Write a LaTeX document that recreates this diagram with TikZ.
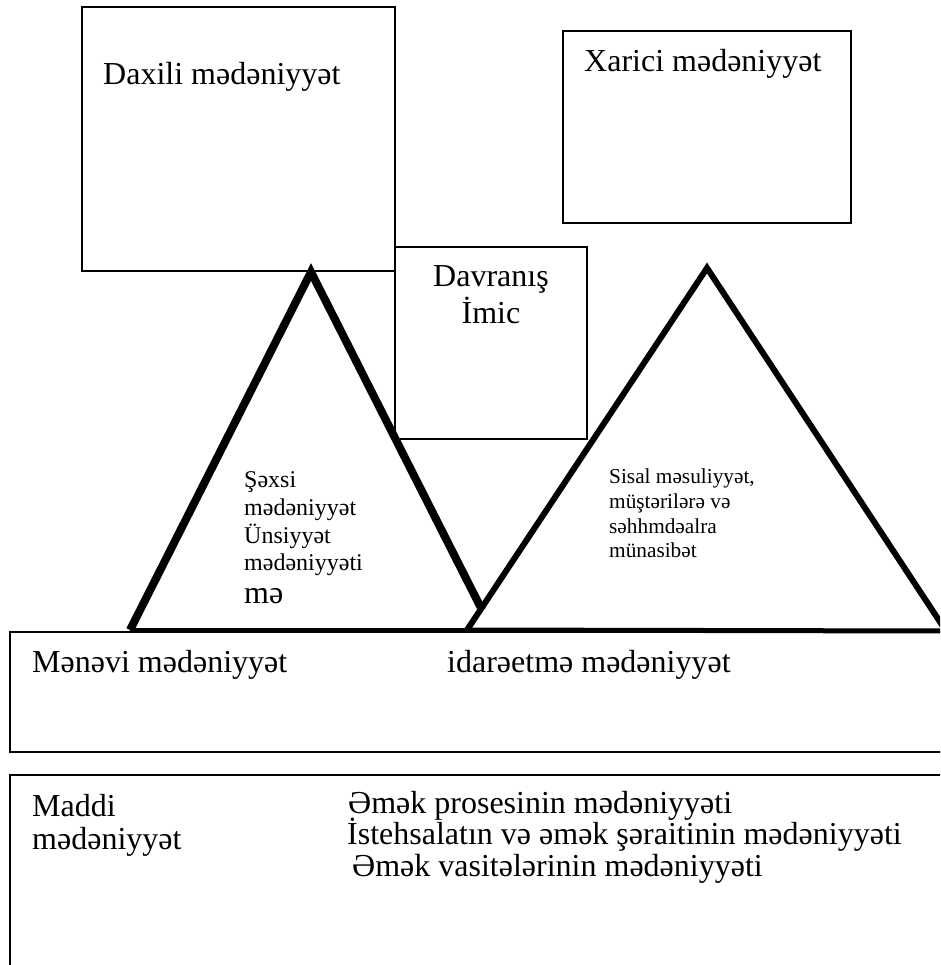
\documentclass[tikz,border=0pt]{standalone}
\usepackage{fontspec}
\setmainfont{Liberation Serif}
\begin{document}
\begin{tikzpicture}[x=1pt,y=-1pt,
  boxline/.style={draw=black, line width=2pt},
  widebox/.style={draw=black, line width=2.5pt},
  lefttri/.style={draw=black, line width=8pt, line join=miter},
  righttri/.style={draw=black, line width=6pt, line join=miter},
  baseline/.style={draw=black, line width=5pt},
  bigtxt/.style={inner sep=0pt, anchor=base west, font=\fontsize{32}{36}\selectfont},
  midtxt/.style={inner sep=0pt, anchor=base, font=\fontsize{32}{36}\selectfont},
  lefttxt/.style={inner sep=0pt, anchor=base west, font=\fontsize{24}{28}\selectfont},
  righttxt/.style={inner sep=0pt, anchor=base west, font=\fontsize{21.3}{25}\selectfont}]
\clip (0,0) rectangle (940,965);
\useasboundingbox (0,0) rectangle (940,965);
\fill[white] (0,0) rectangle (940,965);

% boxes
\draw[boxline] (82,7) rectangle (395,271);
\draw[widebox] (563,31) rectangle (851,223);
\draw[boxline] (395,247) rectangle (587,439);
\draw[widebox] (10,632) rectangle (960,752);
\draw[widebox] (10,775) rectangle (960,990);

% triangles
\coordinate (lA) at (311,272);
\coordinate (lL) at (130,630);
\coordinate (lR) at (482,610);
\coordinate (lB) at (470,630);
\coordinate (rA) at (707,268);
\coordinate (rL) at (467,630);
\coordinate (rR) at (946,631);
\draw[lefttri] (lL) -- (lA) -- (lR);
\draw[baseline] (lL) -- (lB);
\draw[righttri] (rL) -- (rA) -- (rR);
\draw[baseline] (rL) -- (rR);

% texts
\node[bigtxt] (daxili) at (103,85) {Daxili mədəniyyət};
\node[bigtxt] (xarici) at (584,72) {Xarici mədəniyyət};
\node[midtxt] (davr) at (491,287) {Davranış};
\node[midtxt] (imic) at (491,323) {İmic};

\node[lefttxt] (l1) at (244,487) {Şəxsi};
\node[lefttxt] (l2) at (244,515) {mədəniyyət};
\node[lefttxt] (l3) at (244,543) {Ünsiyyət};
\node[lefttxt] (l4) at (244,570) {mədəniyyəti};
\node[bigtxt] (l5) at (244,603) {mə};

\node[righttxt] (r1) at (609,483) {Sisal məsuliyyət,};
\node[righttxt] (r2) at (609,508) {müştərilərə və};
\node[righttxt] (r3) at (609,533) {səhhmdəalra};
\node[righttxt] (r4) at (609,557) {münasibət};

\node[bigtxt] (menevi) at (32,672) {Mənəvi mədəniyyət};
\node[bigtxt] (idare) at (447,672) {idarəetmə mədəniyyət};

\node[bigtxt] (maddi1) at (32,816) {Maddi};
\node[bigtxt] (maddi2) at (32,849) {mədəniyyət};
\node[bigtxt] (m1) at (348,813) {Əmək prosesinin mədəniyyəti};
\node[bigtxt] (m2) at (347,844) {İstehsalatın və əmək şəraitinin mədəniyyəti};
\node[bigtxt] (m3) at (352,876) {Əmək vasitələrinin mədəniyyəti};
\end{tikzpicture}
\end{document}
